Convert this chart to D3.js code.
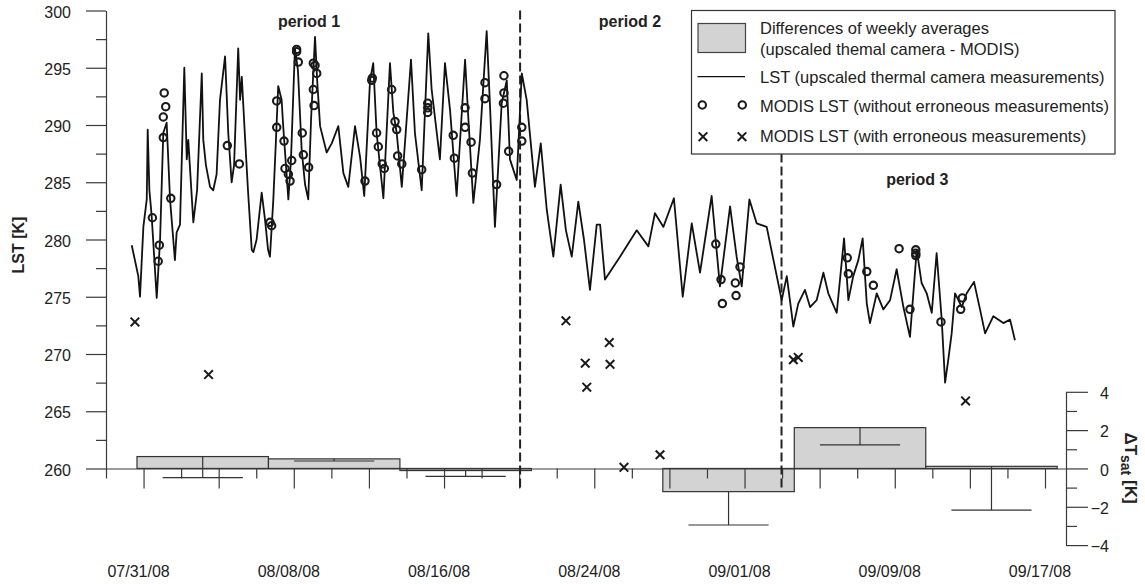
<!DOCTYPE html>
<html>
<head>
<meta charset="utf-8">
<script src="https://cdn.jsdelivr.net/npm/d3@7"></script>
<style>
  html, body { margin: 0; padding: 0; background: #fff; }
  svg { display: block; font-family: "Liberation Sans", Arial, Helvetica, sans-serif; }
</style>
</head>
<body>
<svg id="chart" width="1145" height="584"></svg>
<script>
// ---- Data (time as day of year 2008, temperatures in K) ----

// Upscaled thermal camera LST: [day of year, LST K]
const lstSeries = [
  [212.37,279.5],[212.72,276.8],[212.81,275.0],[212.99,281.1],[213.17,283.5],[213.22,289.6],[213.31,284.3],[213.43,282.1],
  [213.70,274.9],[213.88,280.0],[214.05,289.3],[214.23,290.2],[214.41,283.5],[214.67,278.2],[214.76,280.6],[214.94,281.3],
  [215.17,295.0],[215.30,287.0],[215.38,288.7],[215.65,281.5],[215.85,284.3],[216.10,294.5],[216.18,288.7],[216.32,286.5],
  [216.54,284.6],[216.71,284.3],[216.89,285.7],[217.07,292.2],[217.34,296.0],[217.51,289.3],[217.69,285.0],[217.82,286.5],
  [218.04,296.7],[218.14,292.2],[218.23,294.2],[218.40,289.0],[218.56,284.3],[218.76,279.1],[218.85,278.9],[219.02,280.0],
  [219.29,284.1],[219.47,281.7],[219.63,279.1],[219.73,278.5],[219.91,283.5],[220.05,288.7],[220.17,293.4],[220.35,292.2],
  [220.44,289.8],[220.71,283.5],[220.85,287.0],[221.06,296.7],[221.22,294.8],[221.42,287.8],[221.60,284.8],[221.77,283.5],
  [221.92,290.5],[222.13,297.7],[222.24,294.0],[222.40,289.9],[222.75,287.6],[223.02,288.4],[223.37,289.9],[223.64,285.8],
  [223.90,284.6],[224.26,289.9],[224.53,287.2],[224.75,283.8],[225.06,293.9],[225.23,295.4],[225.41,289.3],[225.77,283.6],
  [226.12,295.4],[226.30,291.1],[226.48,289.3],[226.75,284.6],[227.24,295.7],[227.45,289.3],[227.81,284.3],[228.16,298.0],
  [228.34,293.1],[228.78,287.0],[229.05,295.4],[229.32,291.3],[229.67,283.8],[230.12,295.7],[230.29,290.7],[230.56,283.2],
  [230.91,288.7],[231.27,298.2],[231.45,291.6],[231.71,281.1],[232.07,291.9],[232.34,293.9],[232.51,287.0],[232.87,285.2],
  [233.14,294.5],[233.40,292.2],[233.84,284.6],[234.15,288.4],[234.47,282.6],[234.82,278.5],[235.21,284.8],[235.49,280.8],
  [235.80,278.5],[236.15,283.3],[236.45,280.0],[236.77,275.6],[237.13,281.3],[237.31,281.3],[237.57,276.5],[238.37,278.5],
  [239.26,280.8],[239.88,279.4],[240.23,282.3],[240.68,281.1],[241.24,283.6],[241.71,275.0],[242.19,281.4],[242.63,277.1],
  [243.25,283.8],[243.69,275.9],[244.23,282.9],[244.58,278.5],[244.85,275.9],[245.26,283.5],[245.65,281.4],[246.18,281.1],
  [246.98,274.7],[247.25,276.8],[247.60,272.4],[247.86,274.4],[248.22,275.6],[248.49,274.1],[248.84,274.7],[249.20,277.1],
  [249.46,275.3],[249.91,273.6],[250.30,280.1],[250.53,274.7],[250.79,276.8],[251.06,278.2],[251.29,280.1],[251.51,274.4],
  [251.68,272.7],[252.04,275.3],[252.39,273.9],[252.75,274.7],[253.10,277.4],[253.46,274.1],[253.81,271.5],[254.17,279.1],
  [254.43,276.2],[254.70,275.3],[254.97,273.6],[255.23,278.8],[255.50,273.0],[255.68,267.5],[255.85,269.5],[256.03,271.8],
  [256.21,275.3],[256.57,274.1],[256.83,275.3],[257.22,276.3],[257.54,273.9],[257.81,271.8],[258.25,273.3],[258.78,272.7],
  [259.14,273.0],[259.40,271.2]
];

// MODIS LST, erroneous measurements removed: [day of year, LST K]
const modisValid = [
  [214.10,292.8],[214.18,291.6],[214.05,290.7],[214.05,288.9],[213.47,281.9],[213.84,279.5],[213.78,278.1],[214.45,283.6],
  [217.46,288.2],[218.10,286.6],[219.73,281.5],[219.82,281.2],[220.09,292.1],[220.09,289.8],[220.48,288.6],[220.53,286.2],
  [220.71,285.7],[220.80,285.1],[220.89,286.9],[221.15,296.6],[221.15,296.4],[221.24,295.5],[221.45,289.3],[221.51,287.4],
  [221.79,286.3],[222.04,295.4],[222.13,295.2],[222.22,294.5],[222.04,293.1],[222.08,291.7],[225.15,293.9],[225.18,294.1],
  [225.41,289.3],[225.50,288.1],[225.71,286.6],[225.82,286.2],[224.79,285.1],[226.21,293.1],[226.39,290.3],[226.48,289.6],
  [226.53,287.3],[226.75,286.6],[227.81,286.1],[228.13,291.9],[228.13,291.5],[228.13,291.1],[229.49,289.1],[229.55,287.1],
  [230.12,291.5],[230.12,289.8],[230.44,288.5],[230.51,285.8],[231.18,293.7],[231.18,292.3],[231.80,284.8],[232.19,294.3],
  [232.19,292.8],[232.16,291.9],[232.44,287.7],[233.14,289.8],[233.14,288.6],[243.47,279.6],[243.75,276.5],[243.82,274.4],
  [244.51,276.2],[244.55,275.1],[244.76,277.6],[250.47,278.4],[250.53,277.0],[251.51,277.2],[251.86,276.0],[253.23,279.2],
  [254.12,279.1],[254.12,278.8],[254.12,278.6],[253.81,273.9],[255.46,272.8],[256.60,274.9],[256.51,273.9]
];

// MODIS LST, erroneous measurements: [day of year, LST K]
const modisErroneous = [
  [212.54,272.8],[216.46,268.2],[235.49,272.9],[237.80,271.0],[236.52,269.2],[237.84,269.1],
  [236.60,267.1],[238.58,260.1],[240.50,261.2],[247.60,269.5],[247.86,269.7],[256.77,265.9]
];

// Weekly averages: difference upscaled thermal camera - MODIS (K) and its spread
// (no valid MODIS week between day 233.65 and 240.65)
const weekStart = [212.65, 219.65, 226.65, 240.65, 247.65, 254.65];
const weekLength = 7;
const weekDiff = [0.62, 0.50, -0.11, -1.21, 2.13, 0.11];
const weekSpread = [1.10, 0.11, 0.30, 1.74, 0.90, 2.28];

// Period boundaries and labels
const periodBounds = [233.05, 246.97];
const periodLabels = ["period 1", "period 2", "period 3"];
const periodLabelAt = [[221.81, 298.6], [238.9, 298.6], [254.2, 284.8]];

// Axis ticks
const lstTicks = [260, 265, 270, 275, 280, 285, 290, 295, 300];
const lstMinorTicks = [262.5, 267.5, 272.5, 277.5, 282.5, 287.5, 292.5, 297.5];
const diffTicks = [-4, -2, 0, 2, 4];
const diffMinorTicks = [-3, -1, 1, 3];
const dateLabelTicks = ["2008-07-31", "2008-08-08", "2008-08-16", "2008-08-24", "2008-09-01", "2008-09-09", "2008-09-17"];
const dateMajorTicks = ["2008-07-31", "2008-08-04", "2008-08-08", "2008-08-12", "2008-08-16", "2008-08-20", "2008-08-24",
  "2008-08-28", "2008-09-01", "2008-09-05", "2008-09-09", "2008-09-13", "2008-09-17"];
const dateMinorTicks = ["2008-07-29", "2008-08-02", "2008-08-06", "2008-08-10", "2008-08-14", "2008-08-18", "2008-08-22",
  "2008-08-26", "2008-08-30", "2008-09-03", "2008-09-07", "2008-09-11", "2008-09-15"];

const legendItems = [
  ["Differences of weekly averages", "(upscaled themal camera - MODIS)"],
  ["LST (upscaled thermal camera measurements)"],
  ["MODIS LST (without erroneous measurements)"],
  ["MODIS LST (with erroneous measurements)"]
];

// ---- Scales ----
const doyToDate = doy => new Date(Date.UTC(2008, 0, 1) + (doy - 1) * 864e5);
const parseDay = d3.utcParse("%Y-%m-%d");

const left = 106, right = 1066;
const x = d3.scaleUtc().domain([doyToDate(211), doyToDate(262.118)]).range([left, right]);
const yL = d3.scaleLinear().domain([260, 300]).range([468.5, 10.5]);
const yR = d3.scaleLinear().domain([-4, 4]).range([545.1, 391.8]);
const xd = doy => x(doyToDate(doy));

const svg = d3.select("#chart");
const ink = "#222";
const axisInk = "#3a3a3a";

// ---- Weekly difference bars with spread ----
const bars = svg.append("g");
weekStart.forEach((s, i) => {
  const x0 = xd(s), x1 = xd(s + weekLength);
  const v = weekDiff[i];
  bars.append("rect")
    .attr("x", x0).attr("width", x1 - x0)
    .attr("y", Math.min(yR(v), yR(0)))
    .attr("height", Math.abs(yR(v) - yR(0)))
    .attr("fill", "#d3d3d3").attr("stroke", "#333").attr("stroke-width", 1.2);
});
const errs = svg.append("g").attr("stroke", "#333").attr("stroke-width", 1.2);
weekStart.forEach((s, i) => {
  const cx = xd(s + weekLength / 2);
  const half = (xd(s + weekLength) - xd(s)) * 0.305;
  const lo = weekDiff[i] - weekSpread[i];
  errs.append("line").attr("x1", cx).attr("x2", cx).attr("y1", yR(weekDiff[i])).attr("y2", yR(lo));
  errs.append("line").attr("x1", cx - half).attr("x2", cx + half).attr("y1", yR(lo)).attr("y2", yR(lo));
});

// ---- Axes ----
function styleAxis(g) {
  g.selectAll("path.domain").attr("stroke", axisInk).attr("stroke-width", 1.2);
  g.selectAll(".tick line").attr("stroke", axisInk).attr("stroke-width", 1.2);
  g.selectAll(".tick text").attr("fill", ink).style("font-size", "16px").style("font-family", "Liberation Sans, Arial, sans-serif");
}

// Left LST axis
svg.append("g").attr("transform", `translate(${left},0)`)
  .call(d3.axisLeft(yL).tickValues(lstTicks).tickSize(20).tickSizeOuter(0).tickPadding(15).tickFormat(d3.format("d")))
  .call(styleAxis)
  .call(g => g.selectAll(".tick text").attr("dy", "0.42em"));
svg.append("g").attr("transform", `translate(${left},0)`)
  .call(d3.axisLeft(yL).tickValues(lstMinorTicks).tickSize(10).tickFormat(""))
  .call(styleAxis)
  .call(g => g.select(".domain").remove());

// Bottom date axis
const labelSet = new Set(dateLabelTicks);
svg.append("g").attr("transform", `translate(0,${yL(260)})`)
  .call(d3.axisBottom(x).tickValues(dateMajorTicks.map(parseDay)).tickSize(20).tickSizeOuter(0).tickPadding(77)
    .tickFormat(d => labelSet.has(d3.utcFormat("%Y-%m-%d")(d)) ? d3.utcFormat("%m/%d/%y")(d) : ""))
  .call(styleAxis)
  .call(g => g.selectAll(".tick text").attr("dx", "-5.5"));
svg.append("g").attr("transform", `translate(0,${yL(260)})`)
  .call(d3.axisBottom(x).tickValues(dateMinorTicks.map(parseDay)).tickSize(10).tickFormat(""))
  .call(styleAxis)
  .call(g => g.select(".domain").remove());

// Right difference axis
svg.append("g").attr("transform", `translate(${right},0)`)
  .call(d3.axisRight(yR).tickValues(diffTicks).tickSize(22).tickSizeOuter(0).tickPadding(21).tickFormat(d3.format("d")))
  .call(styleAxis)
  .call(g => g.selectAll(".tick text").attr("text-anchor", "end").attr("x", 43).attr("dy", "0.42em"));
svg.append("g").attr("transform", `translate(${right},0)`)
  .call(d3.axisRight(yR).tickValues(diffMinorTicks).tickSize(11).tickFormat(""))
  .call(styleAxis)
  .call(g => g.select(".domain").remove());

// Axis titles
svg.append("text")
  .attr("transform", `translate(24,${245}) rotate(-90)`)
  .attr("text-anchor", "middle").attr("fill", ink)
  .style("font-size", "16px").style("font-weight", "bold")
  .text("LST [K]");
const rt = svg.append("text")
  .attr("transform", `translate(1125,${468}) rotate(90)`)
  .attr("text-anchor", "middle").attr("fill", ink)
  .style("font-size", "17px").style("font-weight", "bold");
rt.append("tspan").text("\u0394T");
rt.append("tspan").attr("dy", "4").style("font-size", "14px").text("sat");
rt.append("tspan").attr("dy", "-4").text(" [K]");

// ---- Period boundaries ----
svg.append("g").selectAll("line").data(periodBounds).join("line")
  .attr("x1", d => xd(d)).attr("x2", d => xd(d))
  .attr("y1", yL(300)).attr("y2", yL(260) + 20)
  .attr("stroke", "#222").attr("stroke-width", 2).attr("stroke-dasharray", "9,4");

svg.append("g").selectAll("text").data(periodLabels).join("text")
  .attr("x", (d, i) => xd(periodLabelAt[i][0]))
  .attr("y", (d, i) => yL(periodLabelAt[i][1]))
  .attr("text-anchor", "middle").attr("fill", ink)
  .style("font-size", "16px").style("font-weight", "bold")
  .text(d => d);

// ---- LST line ----
const line = d3.line().x(d => xd(d[0])).y(d => yL(d[1]));
svg.append("path").datum(lstSeries)
  .attr("d", line).attr("fill", "none")
  .attr("stroke", "#111").attr("stroke-width", 1.8).attr("stroke-linejoin", "round");

// ---- MODIS markers ----
svg.append("g").selectAll("circle").data(modisValid).join("circle")
  .attr("cx", d => xd(d[0])).attr("cy", d => yL(d[1])).attr("r", 3.7)
  .attr("fill", "none").attr("stroke", "#1a1a1a").attr("stroke-width", 2.1);

const cross = d3.symbol(d3.symbolX, 50);
svg.append("g").selectAll("path").data(modisErroneous).join("path")
  .attr("transform", d => `translate(${xd(d[0])},${yL(d[1])})`)
  .attr("d", cross).attr("fill", "none").attr("stroke", "#1a1a1a").attr("stroke-width", 2);

// ---- Legend ----
const lg = svg.append("g");
lg.append("rect").attr("x", 691.5).attr("y", 10.5).attr("width", 423.5).attr("height", 143.5)
  .attr("fill", "#fff").attr("stroke", "#333").attr("stroke-width", 1.2);
lg.append("rect").attr("x", 698).attr("y", 23.5).attr("width", 47.5).attr("height", 29)
  .attr("fill", "#d3d3d3").attr("stroke", "#444").attr("stroke-width", 1.2);
lg.append("line").attr("x1", 697.5).attr("x2", 745).attr("y1", 76.7).attr("y2", 76.7)
  .attr("stroke", "#111").attr("stroke-width", 1.3);
lg.selectAll("circle").data([702.3, 742.3]).join("circle")
  .attr("cx", d => d).attr("cy", 105).attr("r", 3.7)
  .attr("fill", "none").attr("stroke", "#1a1a1a").attr("stroke-width", 2.1);
lg.selectAll("path.lx").data([703, 742]).join("path").attr("class", "lx")
  .attr("transform", d => `translate(${d},136.7)`)
  .attr("d", cross).attr("fill", "none").attr("stroke", "#1a1a1a").attr("stroke-width", 2);
const legendBaselines = [[34, 55], [83], [111.5], [141.5]];
legendItems.forEach((lines, i) => {
  lines.forEach((t, j) => {
    lg.append("text").attr("x", 760).attr("y", legendBaselines[i][j])
      .attr("fill", ink).style("font-size", "16.5px").text(t);
  });
});
</script>
</body>
</html>
